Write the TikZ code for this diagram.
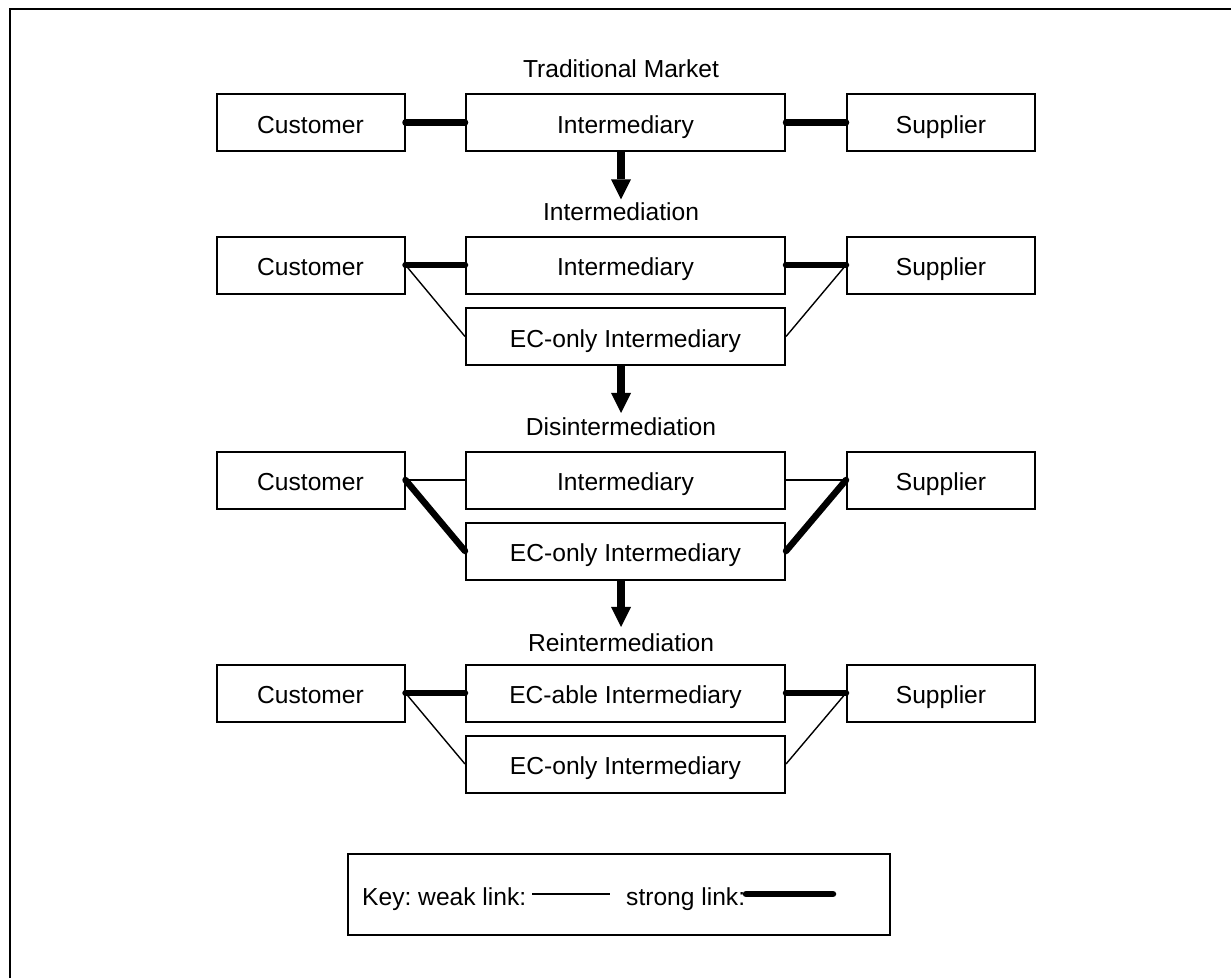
\documentclass[tikz,border=0pt]{standalone}
\usepackage{fontspec}
\setmainfont{Liberation Sans}
\usetikzlibrary{arrows.meta}
\newcommand\diagfont{\fontsize{24.6pt}{29pt}\selectfont}
\frenchspacing
\begin{document}
\begin{tikzpicture}[x=1pt,y=-1pt,
  box/.style={draw, line width=2pt, minimum height=57pt, inner sep=0pt, text height=21.6pt, text depth=0pt, font=\diagfont},
  sidebox/.style={box, minimum width=188pt},
  midbox/.style={box, minimum width=319pt},
  lab/.style={anchor=base, inner sep=0pt, font=\diagfont},
  strong/.style={line width=6.5pt, line cap=round},
  weak/.style={line width=1.4pt},
  bigarrow/.style={line width=8pt, -{Triangle[length=20pt,width=20pt,line width=0pt]}},
  keybox/.style={draw, line width=2pt, minimum width=542pt, minimum height=81pt, inner sep=0pt}
]
\useasboundingbox (0,0) rectangle (1231,978);
% outer frame (only top and left visible)
\coordinate (f1) at (10,978);
\coordinate (f2) at (10,9);
\coordinate (f3) at (1231,9);
\draw[line width=2.5pt] (f1) -- (f2) -- (f3);

% labels
\node[lab] (l1) at (621,77) {Traditional Market};
\node[lab] (l2) at (621,220.5) {Intermediation};
\node[lab] (l3) at (621,435) {Disintermediation};
\node[lab] (l4) at (621,651) {Reintermediation};

% row 1
\node[sidebox] (c1) at (310.5,122.5) {Customer};
\node[midbox] (i1) at (625.5,122.5) {Intermediary};
\node[sidebox] (s1) at (941,122.5) {Supplier};
\draw[strong] (c1.east) -- (i1.west);
\draw[strong] (i1.east) -- (s1.west);

% row 2
\node[sidebox] (c2) at (310.5,265) {Customer};
\node[midbox] (i2) at (625.5,265) {Intermediary};
\node[sidebox] (s2) at (941,265) {Supplier};
\node[midbox] (e2) at (625.5,336.5) {EC-only Intermediary};
\draw[strong] (c2.east) -- (i2.west);
\draw[strong] (i2.east) -- (s2.west);
\draw[weak] (c2.east) -- (e2.west);
\draw[weak] (e2.east) -- (s2.west);

% row 3
\node[sidebox] (c3) at (310.5,480) {Customer};
\node[midbox] (i3) at (625.5,480) {Intermediary};
\node[sidebox] (s3) at (941,480) {Supplier};
\node[midbox] (e3) at (625.5,551) {EC-only Intermediary};
\draw[weak] (c3.east) -- (i3.west);
\draw[weak] (i3.east) -- (s3.west);
\draw[strong] (c3.east) -- (e3.west);
\draw[strong] (e3.east) -- (s3.west);

% row 4
\node[sidebox] (c4) at (310.5,693) {Customer};
\node[midbox] (a4) at (625.5,693) {EC-able Intermediary};
\node[sidebox] (s4) at (941,693) {Supplier};
\node[midbox] (e4) at (625.5,764) {EC-only Intermediary};
\draw[strong] (c4.east) -- (a4.west);
\draw[strong] (a4.east) -- (s4.west);
\draw[weak] (c4.east) -- (e4.west);
\draw[weak] (e4.east) -- (s4.west);

% transition arrows
\draw[bigarrow] (i1.south -| l2.north) -- ([yshift=3pt]l2.north);
\draw[bigarrow] (e2.south -| l3.north) -- ([yshift=4pt]l3.north);
\draw[bigarrow] (e3.south -| l4.north) -- ([yshift=6pt]l4.north);

% key
\node[keybox] (key) at (619,894.5) {};
\node[lab, anchor=base west] (kt) at (362,905) {Key: weak link:};
\coordinate (w1) at (532,894);
\coordinate (w2) at (610,894);
\draw[weak] (w1) -- (w2);
\node[lab, anchor=base west] (st) at (626,905) {strong link:};
\coordinate (g1) at (746,894);
\coordinate (g2) at (833,894);
\draw[strong] (g1) -- (g2);
\end{tikzpicture}
\end{document}
